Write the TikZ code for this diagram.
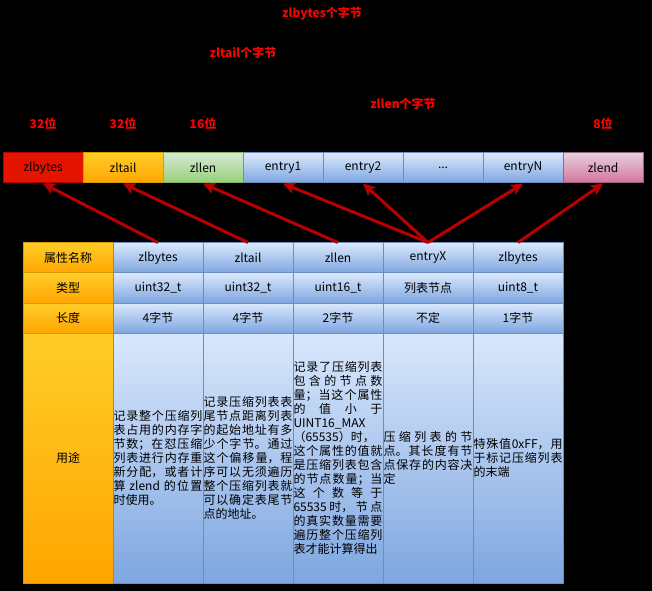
\documentclass[tikz,border=0pt]{standalone}
\usepackage{fontspec}
\setmainfont{Noto Sans CJK SC}
\usetikzlibrary{arrows.meta}
\XeTeXlinebreaklocale "zh"
\XeTeXlinebreakskip=0pt plus 1pt
\definecolor{bluet}{HTML}{DAE8FC}
\definecolor{blueb}{HTML}{7EA6E0}
\definecolor{bluel}{HTML}{6C8EBF}
\definecolor{oranget}{HTML}{FFCD28}
\definecolor{orangeb}{HTML}{FFA500}
\definecolor{orangel}{HTML}{D79B00}
\definecolor{greent}{HTML}{D5E8D4}
\definecolor{greenb}{HTML}{97D077}
\definecolor{greenl}{HTML}{82B366}
\definecolor{pinkt}{HTML}{E6D0DE}
\definecolor{pinkb}{HTML}{D5739D}
\definecolor{pinkl}{HTML}{996185}
\definecolor{redf}{HTML}{E51400}
\definecolor{redl}{HTML}{B20000}
\definecolor{arrred}{HTML}{B80000}
\begin{document}
\begin{tikzpicture}[x=0.75pt,y=-0.75pt,
  txt/.style={font=\fontsize{9}{10.5}\selectfont},
  topbox/.style={txt, draw, line width=0.75pt, minimum width=60pt, minimum height=22.5pt, inner sep=0pt},
  cell/.style={txt, draw, line width=0.75pt, minimum width=67.5pt, minimum height=22.5pt, inner sep=0pt},
  desc/.style={cell, minimum height=187.5pt, text width=66.75pt, align=justify, inner xsep=0.375pt, inner ysep=0pt},
  bluef/.style={top color=bluet, bottom color=blueb, draw=bluel},
  orangef/.style={top color=oranget, bottom color=orangeb, draw=orangel},
  greenf/.style={top color=greent, bottom color=greenb, draw=greenl},
  pinkf/.style={top color=pinkt, bottom color=pinkb, draw=pinkl},
  redff/.style={fill=redf, draw=redl},
  lbl/.style={text=red, font=\fontsize{9}{10}\selectfont\bfseries, inner sep=0pt},
  arr/.style={draw=arrred, line width=2.25pt, -{Stealth[length=9pt,width=8.5pt,inset=2pt]}}
]
\fill[black] (0,0) rectangle (652,591);
\useasboundingbox (0,0) rectangle (652,591);

% red labels
\node[lbl] (l1) at (322,14) {zlbytes个字节};
\node[lbl] (l2) at (243,53) {zltail个字节};
\node[lbl] (l3) at (403,104) {zllen个字节};
\node[lbl] (l4) at (43,124) {32位};
\node[lbl] (l5) at (123,124) {32位};
\node[lbl] (l6) at (203,124) {16位};
\node[lbl] (l7) at (603,124) {8位};

% top row
\node[topbox, redff] (zlbytes) at (43,168) {zlbytes};
\node[topbox, orangef] (zltail) at (123,168) {zltail};
\node[topbox, greenf] (zllen) at (203,168) {zllen};
\node[topbox, bluef] (entry1) at (283,168) {entry1};
\node[topbox, bluef] (entry2) at (363,168) {entry2};
\node[topbox, bluef] (dots) at (443,168) {...};
\node[topbox, bluef] (entryN) at (523,168) {entryN};
\node[topbox, pinkf] (zlend) at (603,168) {zlend};

% header column
\node[cell, orangef] (h1) at (68,258) {属性名称};
\node[cell, orangef] (h2) at (68,288) {类型};
\node[cell, orangef] (h3) at (68,318) {长度};
\node[cell, orangef, minimum height=187.5pt] (h4) at (68,458) {用途};

% row 1
\node[cell, bluef] (r1c1) at (158,258) {zlbytes};
\node[cell, bluef] (r1c2) at (248,258) {zltail};
\node[cell, bluef] (r1c3) at (338,258) {zllen};
\node[cell, bluef] (r1c4) at (428,258) {entryX};
\node[cell, bluef] (r1c5) at (518,258) {zlbytes};
% row 2
\node[cell, bluef] (r2c1) at (158,288) {uint32\_t};
\node[cell, bluef] (r2c2) at (248,288) {uint32\_t};
\node[cell, bluef] (r2c3) at (338,288) {uint16\_t};
\node[cell, bluef] (r2c4) at (428,288) {列表节点};
\node[cell, bluef] (r2c5) at (518,288) {uint8\_t};
% row 3
\node[cell, bluef] (r3c1) at (158,318) {4字节};
\node[cell, bluef] (r3c2) at (248,318) {4字节};
\node[cell, bluef] (r3c3) at (338,318) {2字节};
\node[cell, bluef] (r3c4) at (428,318) {不定};
\node[cell, bluef] (r3c5) at (518,318) {1字节};
% row 4
\node[desc, bluef] (r4c1) at (158,458) {记录整个压缩列\linebreak 表占用的内存字\linebreak 节数；在怼压缩\linebreak 列表进行内存重\linebreak 新分配，或者计\linebreak 算 zlend 的位置\linebreak 时使用。};
\node[desc, bluef] (r4c2) at (248,458) {记录压缩列表表\linebreak 尾节点距离列表\linebreak 的起始地址有多\linebreak 少个字节。通过\linebreak 这个偏移量，程\linebreak 序可以无须遍历\linebreak 整个压缩列表就\linebreak 可以确定表尾节\linebreak 点的地址。};
\node[desc, bluef] (r4c3) at (338,458) {记录了压缩列表\linebreak 包含的节点数\linebreak 量；当这个属性\linebreak 的值小于\linebreak UINT16\_MAX\newline （65535）时，\newline 这个属性的值就\linebreak 是压缩列表包含\linebreak 的节点数量；当\linebreak 这个数等于\linebreak 65535时，节点\linebreak 的真实数量需要\linebreak 遍历整个压缩列\linebreak 表才能计算得出};
\node[desc, bluef] (r4c4) at (428,458) {压缩列表的节\linebreak 点。其长度有节\linebreak 点保存的内容决\linebreak 定};
\node[desc, bluef] (r4c5) at (518,458) {特殊值0xFF，用\linebreak 于标记压缩列表\linebreak 的末端};

% arrows
\draw[arr] (r1c1.north) -- (zlbytes.south);
\draw[arr] (r1c2.north) -- (zltail.south);
\draw[arr] (r1c3.north) -- (zllen.south);
\draw[arr] (r1c4.north) -- (entry1.south);
\draw[arr] (r1c4.north) -- (entry2.south);
\draw[arr] (r1c4.north) -- (entryN.south);
\draw[arr] (r1c5.north) -- (zlend.south);
\end{tikzpicture}
\end{document}
